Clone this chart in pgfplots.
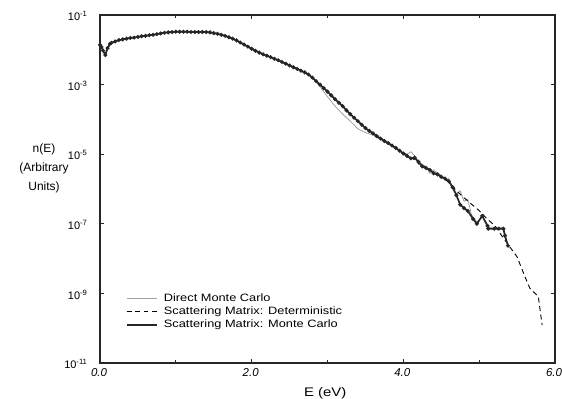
\documentclass[border=0pt]{standalone}
\usepackage{pgfplots}
\pgfplotsset{compat=1.18}
\usepackage{pgfplotstable}
\usepackage{fontspec}
\setmainfont{Liberation Sans}
\newfontfamily\wide{Liberation Sans}[FakeStretch=1.2]

\pgfplotstableread{
E logn
0.00 -1.86
0.03 -1.95
0.07 -2.15
0.10 -1.95
0.15 -1.80
0.20 -1.75
0.30 -1.70
0.40 -1.66
0.50 -1.63
0.60 -1.60
0.70 -1.57
0.80 -1.53
0.90 -1.50
1.00 -1.48
1.10 -1.48
1.20 -1.49
1.30 -1.49
1.40 -1.49
1.50 -1.52
1.60 -1.57
1.70 -1.64
1.80 -1.73
1.90 -1.85
2.00 -1.97
2.10 -2.08
2.20 -2.17
2.30 -2.26
2.40 -2.35
2.50 -2.45
2.60 -2.55
2.70 -2.65
2.80 -2.80
2.90 -3.05
3.00 -3.35
3.10 -3.62
3.20 -3.85
3.30 -4.05
3.40 -4.27
3.50 -4.38
3.60 -4.45
3.70 -4.58
3.80 -4.70
3.90 -4.85
4.00 -4.95
4.05 -5.00
4.10 -4.93
4.15 -5.05
4.20 -5.30
4.25 -5.30
4.30 -5.35
4.35 -5.55
4.40 -5.45
4.45 -5.55
4.50 -5.60
4.55 -5.75
4.60 -5.70
4.65 -5.95
4.70 -6.15
4.75 -6.05
4.80 -6.35
4.85 -6.30
4.90 -6.75
4.97 -6.95
5.05 -6.80
5.12 -7.10
5.30 -7.10
5.33 -7.25
5.35 -7.50
}\directmc

\pgfplotstableread{
E logn
0.00 -1.86
0.03 -1.95
0.07 -2.15
0.10 -1.95
0.15 -1.80
0.20 -1.75
0.30 -1.70
0.40 -1.66
0.50 -1.63
0.60 -1.60
0.70 -1.57
0.80 -1.53
0.90 -1.50
1.00 -1.48
1.10 -1.48
1.20 -1.49
1.30 -1.49
1.40 -1.49
1.50 -1.52
1.60 -1.57
1.70 -1.64
1.80 -1.73
1.90 -1.85
2.00 -1.97
2.10 -2.08
2.20 -2.17
2.30 -2.26
2.40 -2.35
2.50 -2.45
2.60 -2.55
2.70 -2.65
2.80 -2.80
2.90 -3.00
3.00 -3.20
3.10 -3.42
3.20 -3.62
3.30 -3.85
3.40 -4.05
3.50 -4.25
3.60 -4.40
3.70 -4.55
3.80 -4.68
3.90 -4.82
4.00 -4.97
4.10 -5.10
4.20 -5.23
4.30 -5.38
4.40 -5.52
4.50 -5.65
4.60 -5.80
4.70 -6.05
4.80 -6.25
4.88 -6.40
5.00 -6.62
5.10 -6.85
5.21 -7.06
5.30 -7.35
5.40 -7.65
5.50 -7.95
5.60 -8.50
5.67 -8.86
5.78 -9.09
5.83 -9.91
}\determ

\pgfplotstableread{
E logn
0.00 -1.86
0.02 -1.92
0.04 -2.02
0.07 -2.15
0.10 -1.95
0.13 -1.83
0.15 -1.80
0.20 -1.76
0.25 -1.72
0.30 -1.70
0.35 -1.68
0.40 -1.66
0.45 -1.65
0.50 -1.63
0.55 -1.61
0.60 -1.60
0.65 -1.58
0.70 -1.57
0.75 -1.55
0.80 -1.53
0.85 -1.51
0.90 -1.50
0.95 -1.49
1.00 -1.48
1.05 -1.48
1.10 -1.48
1.15 -1.48
1.20 -1.49
1.25 -1.49
1.30 -1.49
1.35 -1.49
1.40 -1.49
1.45 -1.50
1.50 -1.52
1.55 -1.54
1.60 -1.57
1.65 -1.60
1.70 -1.64
1.75 -1.68
1.80 -1.73
1.85 -1.79
1.90 -1.85
1.95 -1.91
2.00 -1.97
2.05 -2.03
2.10 -2.08
2.15 -2.13
2.20 -2.17
2.25 -2.21
2.30 -2.26
2.35 -2.30
2.40 -2.35
2.45 -2.40
2.50 -2.45
2.55 -2.50
2.60 -2.55
2.65 -2.60
2.70 -2.65
2.75 -2.71
2.80 -2.80
2.85 -2.90
2.90 -3.00
2.95 -3.10
3.00 -3.20
3.05 -3.31
3.10 -3.42
3.15 -3.52
3.20 -3.62
3.25 -3.74
3.30 -3.85
3.35 -3.95
3.40 -4.05
3.45 -4.15
3.50 -4.25
3.55 -4.33
3.60 -4.40
3.65 -4.48
3.70 -4.55
3.75 -4.62
3.80 -4.68
3.85 -4.75
3.90 -4.82
3.95 -4.90
4.00 -4.98
4.05 -5.05
4.10 -5.12
4.15 -5.10
4.20 -5.22
4.25 -5.35
4.30 -5.40
4.35 -5.45
4.40 -5.55
4.45 -5.58
4.50 -5.65
4.55 -5.70
4.60 -5.78
4.65 -5.95
4.70 -6.18
4.75 -6.45
4.80 -6.55
4.85 -6.63
4.92 -6.86
4.97 -7.00
5.04 -6.77
5.11 -7.06
5.12 -7.14
5.20 -7.14
5.26 -7.14
5.32 -7.14
5.34 -7.34
5.38 -7.63
}\smmc

\begin{document}
\begin{tikzpicture}
\begin{axis}[
  scale only axis,
  width=455bp, height=348bp,
  xmin=0, xmax=6, ymin=-11, ymax=-1,
  axis line style={line width=1.1pt, black!85},
  xtick={0,2,4,6},
  xticklabels={0.0,2.0,4.0,6.0},
  minor xtick={1,3,5},
  ytick={-11,-9,-7,-5,-3,-1},
  yticklabels={{10\textsuperscript{-11}},{10\textsuperscript{-9}},{10\textsuperscript{-7}},{10\textsuperscript{-5}},{10\textsuperscript{-3}},{10\textsuperscript{-1}}},
  tick align=inside,
  major tick length=4bp, minor tick length=3bp,
  tick style={black!85, line width=0.8pt},
  xticklabel style={font=\fontsize{11.5}{13}\selectfont\itshape, yshift=-2bp, xshift=-1bp},
  yticklabel style={font=\fontsize{11}{13}\selectfont, xshift=-9bp, yshift=-1bp},
  xlabel={E (eV)},
  xlabel style={font=\wide\fontsize{12.5}{14}\selectfont, at={(axis description cs:0.495,0)}, anchor=center, yshift=-30bp},
  ylabel={n(E)\\(Arbitrary\\Units)},
  ylabel style={font=\fontsize{12}{19}\selectfont, rotate=-90, align=center, at={(axis description cs:-0.123,0.56)}, anchor=center},
  legend style={draw=none, fill=none, at={(axis description cs:0.055,0.205)}, anchor=north west,
    font=\wide\fontsize{10.7}{12}\selectfont, row sep=0bp, inner sep=0.5bp},
  legend cell align=left,
  every axis legend/.append style={nodes={inner sep=0.5bp, text height=8.5bp, text depth=3.5bp}},
  legend image code/.code={\draw[#1] (0cm,0cm) -- (30bp,0cm); \path (36bp,0cm);},
  clip=false,
]
\coordinate (sw) at (rel axis cs:0,0);
\coordinate (ne) at (rel axis cs:1,1);
\addplot[gray!75, line width=0.8pt] table[x=E, y=logn] {\directmc};
\addlegendentry{Direct Monte Carlo}
\addplot[black, line width=0.9pt, dash pattern=on 5pt off 3.5pt] table[x=E, y=logn] {\determ};
\addlegendentry{Scattering Matrix: Deterministic}
\addplot[black!85, line width=1.7pt, mark=*, mark size=1pt, mark options={solid}] table[x=E, y=logn] {\smmc};
\addlegendentry{Scattering Matrix: Monte Carlo}
\end{axis}
\pgfresetboundingbox
\useasboundingbox ([shift={(-100bp,-36bp)}]sw) rectangle ([shift={(7bp,15bp)}]ne);
\end{tikzpicture}
\end{document}
